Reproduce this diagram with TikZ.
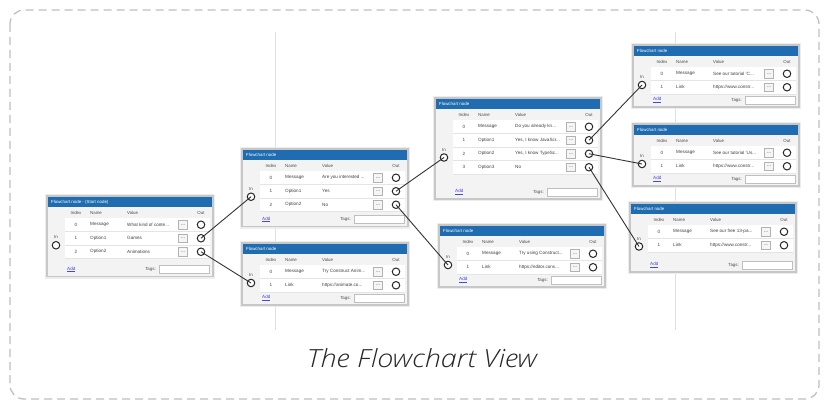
\documentclass[tikz,border=0pt]{standalone}
\usepackage{fontspec}
\setmainfont{Liberation Sans}
\IfFontExistsTF{Open Sans Light Italic}{\newfontfamily\capfont{Open Sans Light Italic}}{\IfFontExistsTF{Lato Light Italic}{\newfontfamily\capfont{Lato Light Italic}}{\newfontfamily\capfontb{Liberation Sans}\def\capfont{\capfontb\itshape}}}
\definecolor{tblue}{RGB}{32,108,176}
\definecolor{bggray}{RGB}{243,243,243}
\definecolor{sepgray}{RGB}{228,228,228}
\definecolor{linkblue}{RGB}{70,70,225}
\definecolor{dashgray}{RGB}{192,192,192}
\tikzset{
  frame/.style={draw=black!22, line width=1.6pt, fill=bggray},
  titletxt/.style={font=\fontsize{4.4}{5}\selectfont, text=white, inner sep=0pt, anchor=west},
  hdr/.style={font=\fontsize{4.4}{5}\selectfont, text=black!70, inner sep=0pt},
  cell/.style={font=\fontsize{4.6}{5}\selectfont, text=black!75, inner sep=0pt},
  btn/.style={draw=black!30, fill=black!4, minimum width=9pt, minimum height=8.5pt, inner sep=0pt, font=\fontsize{5}{5}\selectfont, text=black!80},
  portc/.style={circle, draw=black!85, line width=1pt, fill=white, minimum size=7.5pt, inner sep=0pt},
  addl/.style={font=\fontsize{4.6}{5}\selectfont, text=linkblue, inner sep=0pt, anchor=west},
  tagbox/.style={draw=black!25, fill=white, minimum width=50pt, minimum height=8pt, inner sep=0pt},
  conn/.style={draw=black!80, line width=0.9pt},
}
% #1 id, #2 L, #3 T, #4 nrows, #5 bottom pad, #6 title
\newcommand{\fcbox}[6]{%
  \pgfmathsetmacro\fcR{#2+166}%
  \pgfmathsetmacro\fcRB{#3+22+13.5*#4}%
  \pgfmathsetmacro\fcB{\fcRB+#5}%
  \pgfmathsetmacro\fcIn{(#3+22+\fcB)/2-2}%
  \draw[black!7, line width=4pt] (#2,#3) rectangle (\fcR,\fcB);
  \draw[frame] (#2,#3) rectangle (\fcR,\fcB);
  \fill[tblue] (#2+0.8,#3+0.8) rectangle (\fcR-0.8,#3+11);
  \node[titletxt] (#1-title) at (#2+4,#3+6) {#6};
  \node[hdr] (#1-hi) at (#2+29,#3+17) {Index};
  \node[hdr,anchor=west] (#1-hn) at (#2+43,#3+17) {Name};
  \node[hdr,anchor=west] (#1-hv) at (#2+80,#3+17) {Value};
  \node[hdr] (#1-ho) at (#2+154,#3+17) {Out};
  \fill[white] (#2+18,#3+22) rectangle (\fcR-3,\fcRB);
  \node[hdr] (#1-inl) at (#2+9,\fcIn-8) {In};
  \node[portc] (#1-in) at (#2+9,\fcIn) {};
  \node[addl] (#1-add) at (#2+20,\fcB-7) {\underline{Add}};
  \node[hdr,anchor=east] (#1-tagl) at (#2+109,\fcB-7) {Tags:};
  \node[tagbox] (#1-tagb) at (#2+137,\fcB-7) {};
}
% #1 id, #2 L, #3 T, #4 index, #5 name, #6 value
\newcommand{\fcrow}[6]{%
  \pgfmathsetmacro\fcY{#3+28.75+13.5*#4}%
  \draw[sepgray, line width=0.6pt] (#2+18,\fcY+6.75) -- (#2+163,\fcY+6.75);
  \node[cell] (#1-i#4) at (#2+29,\fcY) {#4};
  \node[cell,anchor=west] (#1-n#4) at (#2+43,\fcY) {#5};
  \node[cell,anchor=west] (#1-v#4) at (#2+80,\fcY) {#6};
  \node[btn] (#1-b#4) at (#2+136,\fcY) {...};
  \node[portc] (#1-o#4) at (#2+154,\fcY) {};
}
\begin{document}
\begin{tikzpicture}[x=1pt,y=-1pt]
\useasboundingbox (0,0) rectangle (826,403);
\fill[white] (0,0) rectangle (826,403);
\draw[dashgray, line width=1.3pt, dash pattern=on 8pt off 5pt, rounded corners=14pt] (10,10) rectangle (819,399);
\draw[black!12, line width=0.8pt] (275,32) -- (275,330);
\draw[black!12, line width=0.8pt] (675,32) -- (675,330);

% start node
\fcbox{s}{47}{196}{3}{18}{Flowchart node - (Start node)}
\fcrow{s}{47}{196}{0}{Message}{What kind of conte...}
\fcrow{s}{47}{196}{1}{Option1}{Games}
\fcrow{s}{47}{196}{2}{Option2}{Animations}

% A
\fcbox{a}{242}{149}{3}{15}{Flowchart node}
\fcrow{a}{242}{149}{0}{Message}{Are you interested ...}
\fcrow{a}{242}{149}{1}{Option1}{Yes}
\fcrow{a}{242}{149}{2}{Option2}{No}

% B
\fcbox{b}{242}{243}{2}{13}{Flowchart node}
\fcrow{b}{242}{243}{0}{Message}{Try Construct Anim...}
\fcrow{b}{242}{243}{1}{Link}{https://animate.co...}

% C
\fcbox{c}{435}{98}{4}{25}{Flowchart node}
\fcrow{c}{435}{98}{0}{Message}{Do you already kn...}
\fcrow{c}{435}{98}{1}{Option1}{Yes, I know JavaScr...}
\fcrow{c}{435}{98}{2}{Option2}{Yes, I know TypeSc...}
\fcrow{c}{435}{98}{3}{Option3}{No}

% D
\fcbox{d}{439}{225}{2}{13}{Flowchart node}
\fcrow{d}{439}{225}{0}{Message}{Try using Construct...}
\fcrow{d}{439}{225}{1}{Link}{https://editor.cons...}

% E
\fcbox{e}{633}{45}{2}{13}{Flowchart node}
\fcrow{e}{633}{45}{0}{Message}{See our tutorial 'C...}
\fcrow{e}{633}{45}{1}{Link}{https://www.constr...}

% F
\fcbox{f}{633}{124}{2}{13}{Flowchart node}
\fcrow{f}{633}{124}{0}{Message}{See our tutorial 'Us...}
\fcrow{f}{633}{124}{1}{Link}{https://www.constr...}

% G
\fcbox{g}{630}{203}{2}{20}{Flowchart node}
\fcrow{g}{630}{203}{0}{Message}{See our free 13-pa...}
\fcrow{g}{630}{203}{1}{Link}{https://www.constr...}

% connectors
\draw[conn] (s-o1.center) -- (a-in.center);
\draw[conn] (s-o2.center) -- (b-in.center);
\draw[conn] (a-o1.center) -- (c-in.center);
\draw[conn] (a-o2.center) -- (d-in.center);
\draw[conn] (c-o1.center) -- (e-in.center);
\draw[conn] (c-o2.center) -- (f-in.center);
\draw[conn] (c-o3.center) -- (g-in.center);

\node[font=\capfont\fontsize{25}{28}\selectfont, text=black!85, anchor=base, inner sep=0pt] (cap) at (422,367) {\scalebox{1.15}[1]{The Flowchart View}};
\end{tikzpicture}
\end{document}
